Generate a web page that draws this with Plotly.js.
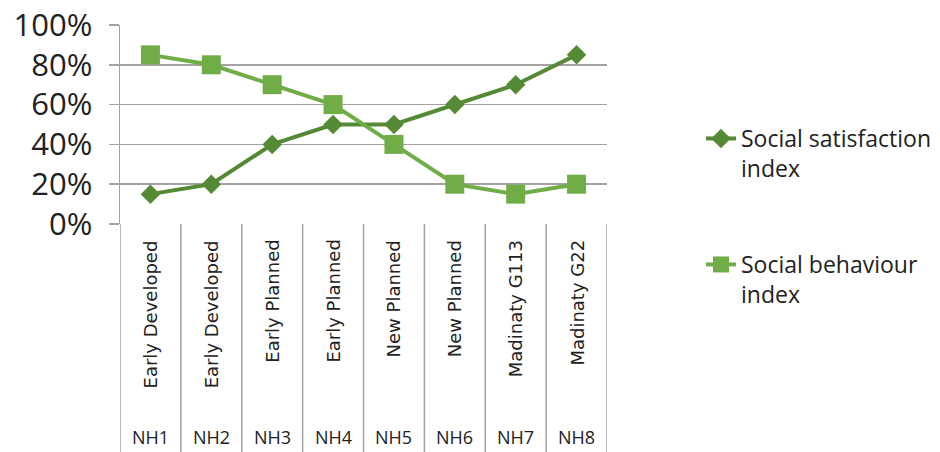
<!DOCTYPE html>
<html>
<head>
<meta charset="utf-8">
<script src="https://cdn.plot.ly/plotly-3.0.1.min.js"></script>
<style>html,body{margin:0;padding:0;background:#fff;}#chart{width:940px;height:452px;}</style>
</head>
<body>
<div id="chart"></div>
<script>
var codes = ['NH1','NH2','NH3','NH4','NH5','NH6','NH7','NH8'];
var groups = ['Early Developed','Early Developed','Early Planned','Early Planned','New Planned','New Planned','Madinaty G113','Madinaty G22'];
var satisfaction = [0.15,0.20,0.40,0.50,0.50,0.60,0.70,0.85];
var behaviour = [0.85,0.80,0.70,0.60,0.40,0.20,0.15,0.20];
var seriesNames = ['Social satisfaction<br>index','Social behaviour<br>index'];
var yTicks = [0,0.2,0.4,0.6,0.8,1.0];

var darkGreen = '#558a35';
var lightGreen = '#70ad47';
var gridGray = '#a3a3a3';

var traces = [
  {x: codes, y: satisfaction, name: seriesNames[0], type: 'scatter', mode: 'lines+markers',
   line: {color: darkGreen, width: 4}, marker: {symbol: 'diamond', size: 15, color: darkGreen},
   legend: 'legend', cliponaxis: false},
  {x: codes, y: behaviour, name: seriesNames[1], type: 'scatter', mode: 'lines+markers',
   line: {color: lightGreen, width: 4}, marker: {symbol: 'square', size: 19, color: lightGreen},
   legend: 'legend2', cliponaxis: false}
];

var plotH = 452 - 25 - 228;
var shapes = [];
for (var i = 0; i <= codes.length; i++) {
  shapes.push({type: 'line', xref: 'x', yref: 'paper', x0: i - 0.5, x1: i - 0.5,
    y0: 0, y1: -228 / plotH, line: {color: gridGray, width: 1.5}, layer: 'below'});
}
var annotations = [];
for (var j = 0; j < codes.length; j++) {
  annotations.push({x: codes[j], xref: 'x', yref: 'paper', y: -14 / plotH, yanchor: 'top',
    xanchor: 'center', text: groups[j], textangle: -90, showarrow: false,
    font: {family: 'DejaVu Sans', size: 18, color: '#222'}});
  annotations.push({x: codes[j], xref: 'x', yref: 'paper', y: -213 / plotH, yanchor: 'middle',
    xanchor: 'center', text: codes[j], showarrow: false,
    font: {family: 'Open Sans', size: 18, color: '#222'}});
}

var legendFont = {family: 'Open Sans', size: 23, color: '#222'};
var layout = {
  width: 940, height: 452,
  margin: {l: 120, r: 333, t: 25, b: 228, autoexpand: false},
  paper_bgcolor: '#fff', plot_bgcolor: '#fff',
  showlegend: true,
  xaxis: {type: 'category', range: [-0.5, 7.5], showticklabels: false, showgrid: false,
    zeroline: false, showline: false, ticks: '', fixedrange: true},
  yaxis: {range: [0, 1], tickvals: yTicks, tickformat: '.0%', showgrid: true,
    gridcolor: gridGray, gridwidth: 1.5, zeroline: false, showline: true,
    linecolor: gridGray, linewidth: 1.5, ticks: 'outside', ticklen: 10,
    tickcolor: gridGray, tickwidth: 1.5, ticklabelstandoff: 10,
    tickfont: {family: 'Open Sans', size: 31, color: '#222'}},
  legend: {x: 1.193, y: (224 - 117) / plotH, xanchor: 'left', yanchor: 'top',
    font: legendFont, valign: 'top', bgcolor: 'rgba(0,0,0,0)'},
  legend2: {x: 1.193, y: (224 - 243) / plotH, xanchor: 'left', yanchor: 'top',
    font: legendFont, valign: 'top', bgcolor: 'rgba(0,0,0,0)'},
  shapes: shapes,
  annotations: annotations
};

Plotly.newPlot('chart', traces, layout, {displayModeBar: false, staticPlot: true});
</script>
</body>
</html>
